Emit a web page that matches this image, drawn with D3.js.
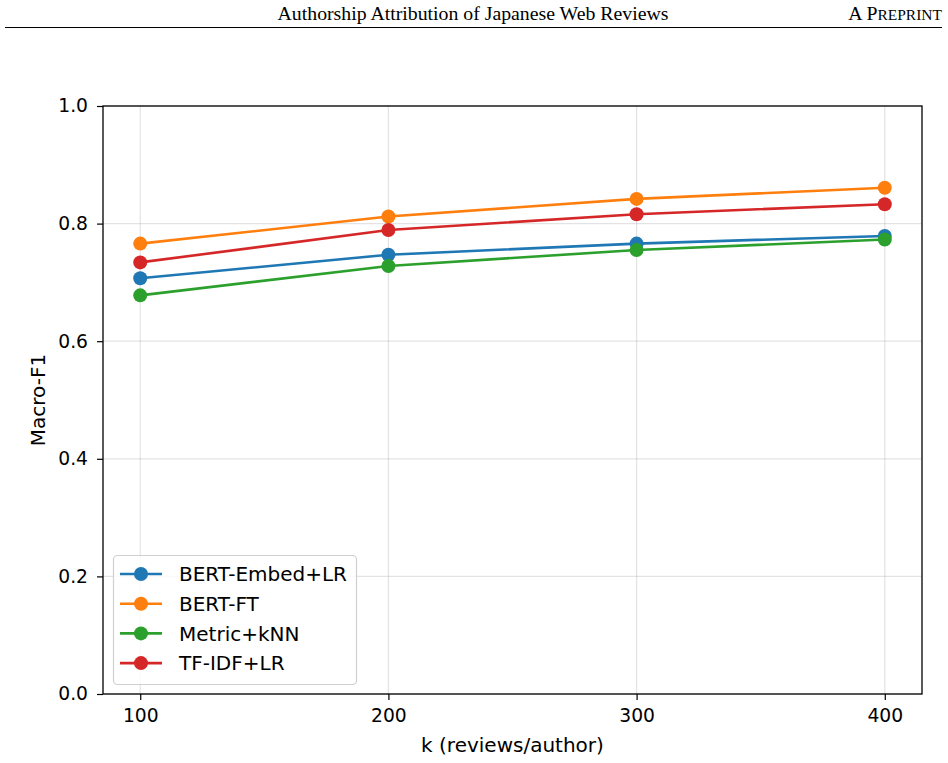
<!DOCTYPE html>
<html><head><meta charset="utf-8">
<script src="https://cdn.jsdelivr.net/npm/d3@7"></script>
<style>body{margin:0;background:#fff;} svg{display:block;}</style>
</head><body>
<script>
const kValues = [100, 200, 300, 400];
const seriesNames = ["BERT-Embed+LR", "BERT-FT", "Metric+kNN", "TF-IDF+LR"];
const bertEmbedLR = [0.707, 0.747, 0.766, 0.779];
const bertFT = [0.766, 0.812, 0.842, 0.861];
const metricKNN = [0.678, 0.728, 0.755, 0.773];
const tfidfLR = [0.734, 0.789, 0.816, 0.833];
const xTicks = [100, 200, 300, 400];
const yTicks = [0.0, 0.2, 0.4, 0.6, 0.8, 1.0];
const colors = ["#1f77b4", "#ff7f0e", "#2ca02c", "#d62728"];

const seriesValues = [bertEmbedLR, bertFT, metricKNN, tfidfLR];
const W = 948, H = 763;
const svg = d3.select("body").append("svg").attr("width", W).attr("height", H);

// header
const serif = "Liberation Serif, Times New Roman, serif";
svg.append("text").attr("x", 473).attr("y", 19.5).attr("text-anchor", "middle")
  .attr("font-family", serif).attr("font-size", 19.8)
  .text("Authorship Attribution of Japanese Web Reviews");
const pp = svg.append("text").attr("x", 942).attr("y", 19.5).attr("text-anchor", "end")
  .attr("font-family", serif).attr("font-size", 19.8);
pp.append("tspan").text("A P");
pp.append("tspan").attr("font-size", 15.5).text("REPRINT");
svg.append("line").attr("x1", 5).attr("x2", 942).attr("y1", 27.5).attr("y2", 27.5)
  .attr("stroke", "#000").attr("stroke-width", 1);

const L = 103, R = 922, T = 106, B = 694;
const x = d3.scaleLinear().domain([85, 415]).range([L, R]);
const y = d3.scaleLinear().domain([0, 1]).range([B, T]);

const font = "DejaVu Sans, sans-serif";
// grid
const g = svg.append("g");
g.selectAll(".gx").data(xTicks).join("line")
  .attr("x1", d => x(d)).attr("x2", d => x(d)).attr("y1", T).attr("y2", B)
  .attr("stroke", "#b0b0b0").attr("stroke-opacity", 0.35).attr("stroke-width", 1.2);
g.selectAll(".gy").data(yTicks).join("line")
  .attr("x1", L).attr("x2", R).attr("y1", d => y(d)).attr("y2", d => y(d))
  .attr("stroke", "#b0b0b0").attr("stroke-opacity", 0.35).attr("stroke-width", 1.2);

// axes
const xAxis = d3.axisBottom(x).tickValues(xTicks).tickSize(6).tickPadding(7).tickFormat(d3.format("d"));
const yAxis = d3.axisLeft(y).tickValues(yTicks).tickSize(6).tickPadding(9).tickFormat(d3.format(".1f"));
const gx = svg.append("g").attr("transform", `translate(0,${B})`).call(xAxis);
const gy = svg.append("g").attr("transform", `translate(${L},0)`).call(yAxis);
[gx, gy].forEach(a => {
  a.select(".domain").remove();
  a.selectAll("line").attr("stroke", "#000").attr("stroke-width", 1.2);
  a.selectAll("text").attr("font-family", font).attr("font-size", 18.7).attr("fill", "#000");
});
gx.selectAll("text").attr("dy", "0.82em");

// lines and markers
const line = d3.line().x((d, i) => x(kValues[i])).y(d => y(d));
seriesValues.forEach((vals, si) => {
  svg.append("path").datum(vals).attr("d", line).attr("fill", "none")
    .attr("stroke", colors[si]).attr("stroke-width", 2.6);
  svg.selectAll(null).data(vals).join("circle")
    .attr("cx", (d, i) => x(kValues[i])).attr("cy", d => y(d)).attr("r", 7)
    .attr("fill", colors[si]);
});

// spines
svg.append("rect").attr("x", L).attr("y", T).attr("width", R - L).attr("height", B - T)
  .attr("fill", "none").attr("stroke", "#000").attr("stroke-width", 1.3);

// axis labels
svg.append("text").attr("x", (L + R) / 2).attr("y", 752).attr("text-anchor", "middle")
  .attr("font-family", font).attr("font-size", 20).text("k (reviews/author)");
svg.append("text").attr("transform", `translate(45,${(T + B) / 2}) rotate(-90)`)
  .attr("text-anchor", "middle").attr("font-family", font).attr("font-size", 20).text("Macro-F1");

// legend
const lg = svg.append("g");
lg.append("rect").attr("x", 113.5).attr("y", 555.5).attr("width", 243).attr("height", 129)
  .attr("rx", 4).attr("fill", "#fff").attr("fill-opacity", 0.8)
  .attr("stroke", "#d0d0d0").attr("stroke-width", 1.2);
seriesNames.forEach((name, i) => {
  const yy = 574 + i * 29.7;
  lg.append("line").attr("x1", 120).attr("x2", 162).attr("y1", yy).attr("y2", yy)
    .attr("stroke", colors[i]).attr("stroke-width", 2.6);
  lg.append("circle").attr("cx", 141).attr("cy", yy).attr("r", 7).attr("fill", colors[i]);
  lg.append("text").attr("x", 179).attr("y", yy).attr("dy", "0.36em")
    .attr("font-family", font).attr("font-size", 20).text(name);
});
</script>
</body></html>
